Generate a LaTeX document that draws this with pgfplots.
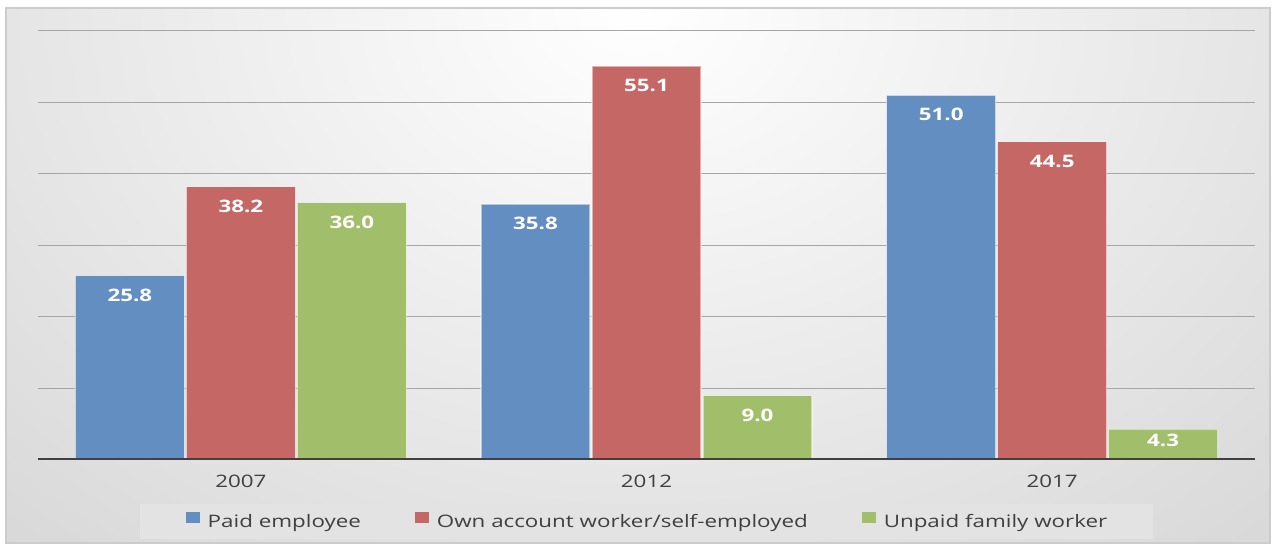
\documentclass[border=0pt]{standalone}
\usepackage{fontspec}
\setmainfont{Open Sans}[FakeStretch=1.3]
\usepackage{pgfplots}
\pgfplotsset{compat=1.18}
\definecolor{cblue}{RGB}{98,142,193}
\definecolor{cred}{RGB}{197,103,101}
\definecolor{cgreen}{RGB}{161,190,106}
\definecolor{ctext}{RGB}{64,64,64}
\newcommand\lblfont{\fontsize{8.6pt}{10pt}\selectfont}

\begin{document}
\begin{tikzpicture}
% page background with the light centre at the top
\fill[white] (0,0) rectangle (639pt,272pt);
\begin{scope}
  \clip (3pt,0.5pt) rectangle (635pt,268pt);
  \shade[inner color=white, outer color=black!21] (319pt,268pt) ellipse (650pt and 500pt);
\end{scope}
\draw[black!20, line width=0.6pt] (3pt,0.5pt) rectangle (635pt,268pt);

\begin{axis}[
    at={(19pt,42pt)}, anchor=south west,
    scale only axis, width=608.5pt, height=214.5pt,
    ybar=1pt, bar width=54.5pt,
    xmin=-0.5, xmax=2.5, ymin=0, ymax=60,
    xtick={0,1,2}, xticklabels={2007,2012,2017},
    ytick={10,20,...,60}, yticklabels={},
    major tick length=0pt,
    axis line style={draw=none},
    ymajorgrids, grid style={black!35, line width=0.5pt},
    xticklabel style={font=\lblfont, text=ctext, anchor=base, yshift=-14pt},
    nodes near coords,
    visualization depends on={y \as \rawy},
    every node near coord/.append style={font=\lblfont\bfseries, text=white,
        anchor=base, yshift={ifthenelse(\rawy<6,-8.85,-12.8)}},
    /pgf/number format/.cd, fixed, fixed zerofill, precision=1, assume math mode=true,
    /pgfplots/.cd,
    legend columns=3,
    legend image code/.code={\path[#1, draw=none] (0pt,0pt) rectangle (7pt,5.5pt);},
    legend style={at={(0.5,-0.1427)}, anchor=center, draw=none, fill=black!11,
        inner xsep=23pt, inner ysep=4pt, font=\lblfont, text=ctext,
        nodes={inner sep=0pt},
        /tikz/every odd column/.append style={column sep=4pt},
        /tikz/every even column/.append style={column sep=27pt}},
]
\addplot[fill=cblue, draw=white, draw opacity=0.5, line width=0.6pt]
    coordinates {(0,25.8) (1,35.8) (2,51.0)};
\addplot[fill=cred, draw=white, draw opacity=0.5, line width=0.6pt]
    coordinates {(0,38.2) (1,55.1) (2,44.5)};
\addplot[fill=cgreen, draw=white, draw opacity=0.5, line width=0.6pt]
    coordinates {(0,36.0) (1,9.0) (2,4.3)};
\legend{Paid employee, Own account worker/self-employed, Unpaid family worker}
\draw[black!75, line width=1.5pt] (axis cs:-0.5,0) -- (axis cs:2.5,0);
\end{axis}
\end{tikzpicture}
\end{document}
